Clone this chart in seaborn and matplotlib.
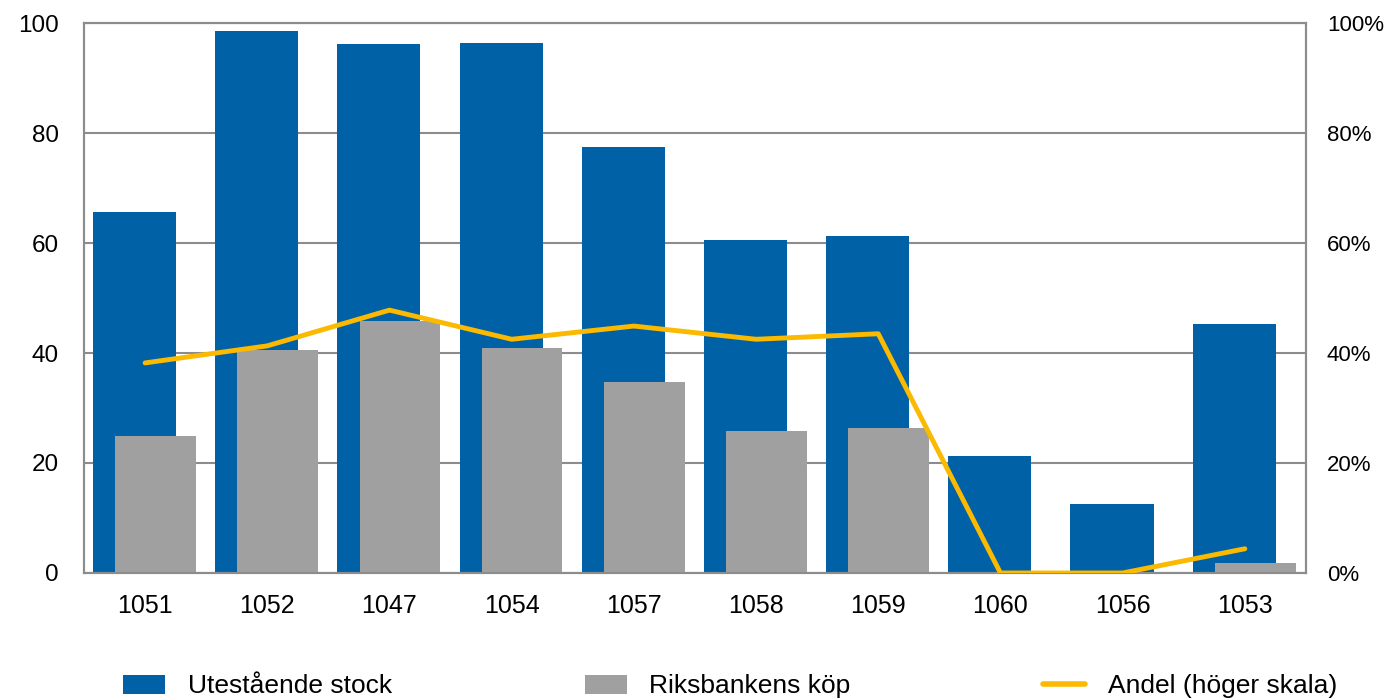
import numpy as np
import pandas as pd
import matplotlib
matplotlib.use("Agg")
import matplotlib.pyplot as plt
import seaborn as sns
from matplotlib.patches import Patch
from matplotlib.lines import Line2D

# === data ===
bonds = ["1051", "1052", "1047", "1054", "1057", "1058", "1059", "1060", "1056", "1053"]
stock = [65.6, 98.5, 96.2, 96.3, 77.5, 60.5, 61.3, 21.3, 12.5, 45.3]
purchases = [24.9, 40.5, 45.8, 40.9, 34.7, 25.8, 26.4, 0.0, 0.0, 1.8]
share = [38.2, 41.3, 47.8, 42.5, 44.9, 42.5, 43.5, 0.0, 0.0, 4.4]

left_ticks = [0, 20, 40, 60, 80, 100]
right_ticks = [0, 20, 40, 60, 80, 100]

BLUE = "#0061A6"
GREY = "#A0A0A0"
YELLOW = "#FBB900"
GRID = "#8C8C8C"

sns.set_style("white")
plt.rcParams["font.family"] = ["Liberation Sans", "DejaVu Sans"]
plt.rcParams["text.color"] = "black"
plt.rcParams["xtick.color"] = "black"
plt.rcParams["ytick.color"] = "black"

df = pd.DataFrame({"bond": bonds, "stock": stock, "purchases": purchases, "share": share})
df["pos"] = np.arange(len(df))

fig = plt.figure(figsize=(13.84, 6.99), dpi=100)
ax = fig.add_axes([0.0607, 0.1803, 0.8829, 0.7867])

# blue bars shifted left, grey bars shifted right (overlapping, grey in front)
sns.barplot(data=df, x="bond", y="stock", color=BLUE, width=0.68, saturation=1, ax=ax, zorder=2)
n_blue = len(ax.patches)
sns.barplot(data=df, x="bond", y="purchases", color=GREY, width=0.66, saturation=1, ax=ax, zorder=3)
for i, p in enumerate(ax.patches):
    shift = -0.087 if i < n_blue else 0.085
    p.set_x(p.get_x() + shift)
    p.set_linewidth(0)

ax.set_xlim(-0.5, len(bonds) - 0.5)
ax.set_ylim(0, 100)
ax.set_yticks(left_ticks)
ax.set_xlabel("")
ax.set_ylabel("")
ax.grid(axis="y", color=GRID, linewidth=1.5, zorder=0)
ax.set_axisbelow(True)
ax.tick_params(axis="y", length=0, pad=18, labelsize=17.5, labelcolor="black")
ax.tick_params(axis="x", length=0, pad=15, labelsize=18, labelcolor="black")
for s in ax.spines.values():
    s.set_color(GRID)
    s.set_linewidth(1.5)

ax2 = ax.twinx()
sns.lineplot(data=df, x="pos", y="share", color=YELLOW, linewidth=3.5, ax=ax2, zorder=4)
ax2.set_ylim(0, 100)
ax2.set_yticks(right_ticks)
ax2.set_yticklabels([f"{t}%" for t in right_ticks])
ax2.set_ylabel("")
ax2.tick_params(axis="y", length=0, pad=15, labelsize=16, labelcolor="black")
for s in ax2.spines.values():
    s.set_color(GRID)
    s.set_linewidth(1.5)
ax2.set_xlim(-0.5, len(bonds) - 0.5)

handles = [
    Patch(facecolor=BLUE, edgecolor="none", label="Utestående stock"),
    Patch(facecolor=GREY, edgecolor="none", label="Riksbankens köp"),
    Line2D([0], [0], color=YELLOW, linewidth=4, label="Andel (höger skala)"),
]
fig.legend(handles=handles, loc="center left", bbox_to_anchor=(0.0718, 0.018), ncol=3,
           frameon=False, prop={"size": 19},
           handlelength=1.6, handleheight=0.75, handletextpad=0.85, columnspacing=7.3)

fig.savefig("out.png", dpi=100)
